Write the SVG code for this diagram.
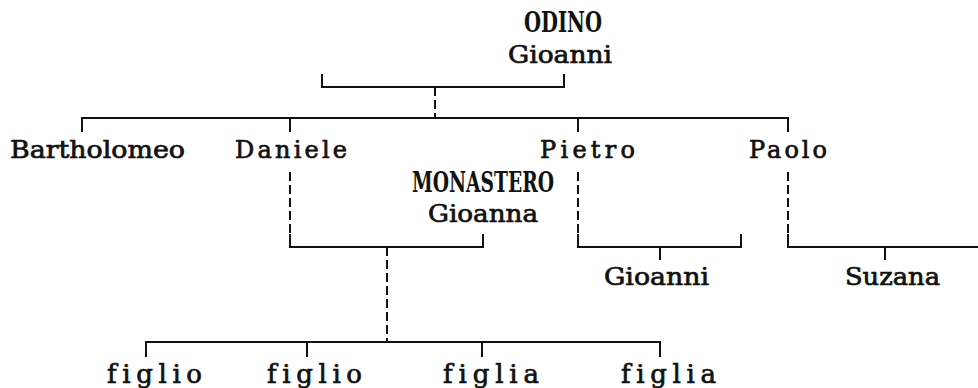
<svg xmlns="http://www.w3.org/2000/svg" width="978" height="388" viewBox="0 0 978 388">
  <style>
    .bg { fill: #ffffff; }
    .ln { fill: none; stroke: #111111; stroke-width: 2; stroke-linecap: butt; stroke-linejoin: miter; }
    .dash { stroke-dasharray: 9 4; }
    text { font-family: "DejaVu Serif", "Liberation Serif", serif; font-size: 24px; font-weight: normal; fill: #111111; stroke: #111111; stroke-width: 0.7; font-variant-ligatures: none; }
    .caps { font-size: 27px; font-weight: bold; stroke-width: 0; }
    .kids { font-size: 26px; }
  </style>
  <rect class="bg" width="978" height="388"/>

  <!-- connectors -->
  <g id="connectors">
    <!-- Odino + Gioanni -->
    <path class="ln" d="M322,74 V87 H564 V74"/>
    <path class="ln dash" d="M435,87 V118"/>
    <path class="ln" d="M82,132 V118 H788 V132 M290,118 V132 M578,118 V132"/>
    <!-- Daniele + Monastero Gioanna -->
    <path class="ln dash" d="M290,172 V234"/>
    <path class="ln" d="M290,234 V247 H483 V234"/>
    <path class="ln dash" d="M387,247 V342"/>
    <path class="ln" d="M146,357 V342 H660 V357 M307,342 V357 M482,342 V357"/>
    <!-- Pietro -->
    <path class="ln dash" d="M578,172 V234"/>
    <path class="ln" d="M578,234 V247 H741 V234 M660,247 V260"/>
    <!-- Paolo -->
    <path class="ln dash" d="M788,172 V234"/>
    <path class="ln" d="M788,234 V247 H978 M885,247 V260"/>
  </g>

  <g id="odino"><text class="caps" x="524" y="32" textLength="78" lengthAdjust="spacingAndGlyphs">ODINO</text></g>
  <g id="gioanni-mother"><text x="508" y="63" textLength="104" lengthAdjust="spacingAndGlyphs">Gioanni</text></g>
  <g id="bartholomeo"><text x="10" y="158" textLength="175" lengthAdjust="spacingAndGlyphs">Bartholomeo</text></g>
  <g id="daniele"><text x="235" y="158" textLength="112" lengthAdjust="spacing">Daniele</text></g>
  <g id="pietro"><text x="540" y="158" textLength="95" lengthAdjust="spacing">Pietro</text></g>
  <g id="paolo"><text x="749" y="158" textLength="78" lengthAdjust="spacing">Paolo</text></g>
  <g id="monastero-gioanna">
    <text class="caps" x="412" y="192" textLength="142" lengthAdjust="spacingAndGlyphs">MONASTERO</text>
    <text x="428" y="222" textLength="110" lengthAdjust="spacingAndGlyphs">Gioanna</text>
  </g>
  <g id="gioanni-son"><text x="604" y="285" textLength="105" lengthAdjust="spacingAndGlyphs">Gioanni</text></g>
  <g id="suzana"><text x="845" y="285" textLength="95" lengthAdjust="spacingAndGlyphs">Suzana</text></g>
  <g id="figlio-1"><text class="kids" x="107" y="383" textLength="95" lengthAdjust="spacing">figlio</text></g>
  <g id="figlio-2"><text class="kids" x="267" y="383" textLength="95" lengthAdjust="spacing">figlio</text></g>
  <g id="figlia-1"><text class="kids" x="443" y="383" textLength="96" lengthAdjust="spacing">figlia</text></g>
  <g id="figlia-2"><text class="kids" x="621" y="383" textLength="95" lengthAdjust="spacing">figlia</text></g>
</svg>
